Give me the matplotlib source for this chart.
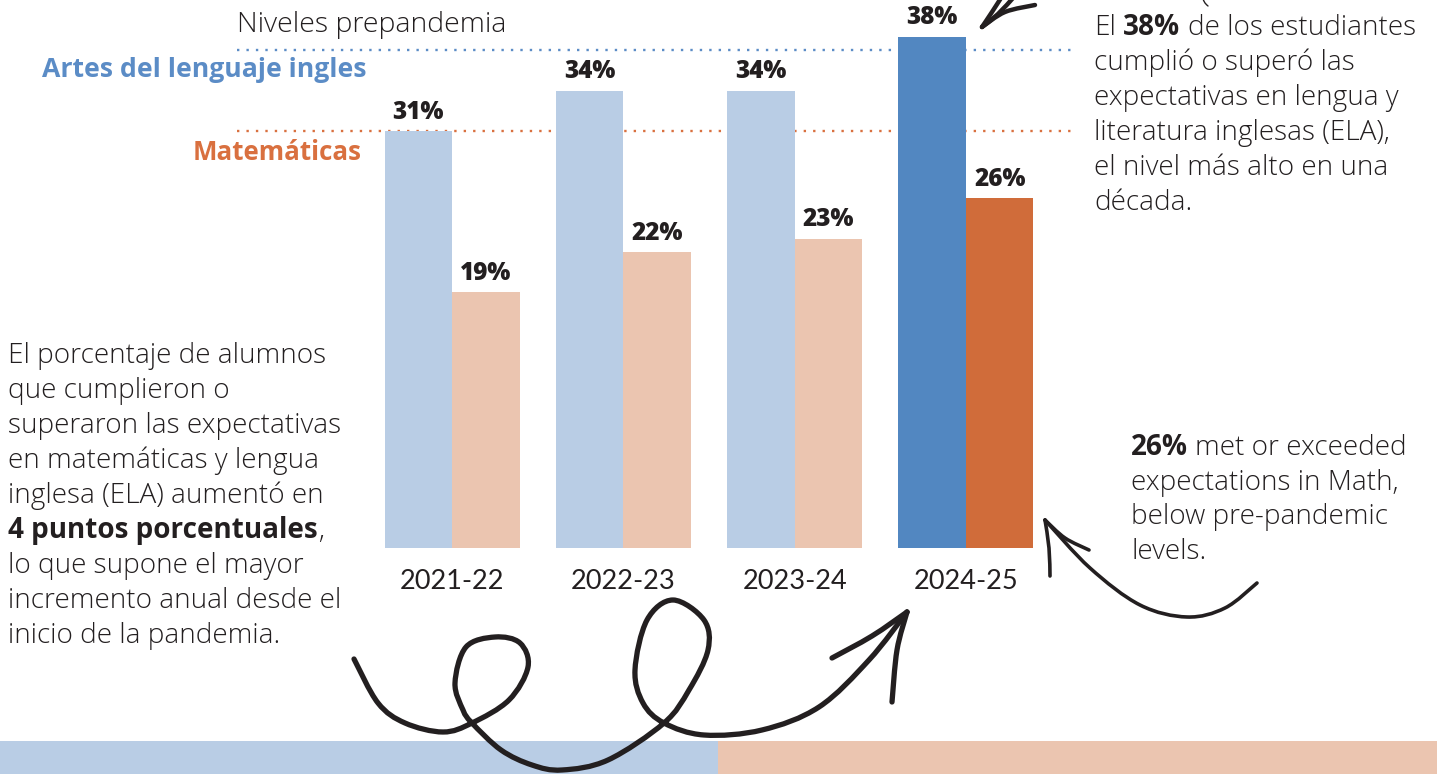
import numpy as np
import matplotlib
matplotlib.use("Agg")
import matplotlib.pyplot as plt
from matplotlib.path import Path
from matplotlib.patches import PathPatch, Rectangle

# data
years = ["2021-22", "2022-23", "2023-24", "2024-25"]
ela = [31, 34, 34, 38]
math_scores = [19, 22, 23, 26]
ela_prepandemic = 37
math_prepandemic = 31

W, H = 1437, 774
plt.rcParams['font.family'] = ['Open Sans', 'DejaVu Sans']
TXT = '#231F20'
BLUE_LBL = '#5B8CC6'
ORANGE_LBL = '#D9703F'
BODY = 20.1
LIGHT = 'light'

fig = plt.figure(figsize=(W / 100, H / 100), dpi=100)


def fx(x):
    return x / W


def fy(y):
    return 1 - y / H


# axes spans the dotted reference lines, baseline at y=548 px
ax = fig.add_axes([fx(237), fy(548), (1077 - 237) / W, 548 / H])
ax.set_facecolor('none')
x = np.arange(len(years))
bw = 0.394
ela_colors = ['#B9CDE5'] * 3 + ['#5287C1']
math_colors = ['#EBC5B0'] * 3 + ['#D06C3A']

ax.bar(x - bw / 2, ela, bw, color=ela_colors, zorder=2)
ax.bar(x + bw / 2, math_scores, bw, color=math_colors, zorder=2)
ax.axhline(ela_prepandemic, color=BLUE_LBL, ls=(0, (1, 3)), lw=1.7, zorder=1)
ax.axhline(math_prepandemic, color=ORANGE_LBL, ls=(0, (1, 3)), lw=1.7, zorder=1)

for xi, v in zip(x - bw / 2, ela):
    ax.annotate(f"{v}%", (xi, v), xytext=(0, 9), textcoords='offset points',
                ha='center', va='baseline', fontsize=17.5, fontweight='heavy', color=TXT)
for xi, v in zip(x + bw / 2, math_scores):
    ax.annotate(f"{v}%", (xi, v), xytext=(0, 9), textcoords='offset points',
                ha='center', va='baseline', fontsize=17.5, fontweight='heavy', color=TXT)

ax.set_xlim(-1.255, 3.648)
ax.set_ylim(0, 40.74)
ax.set_xticks(x)
ax.set_xticklabels(years, fontsize=19.5, color=TXT, family=['Lato', 'DejaVu Sans'])
ax.tick_params(axis='x', length=0, pad=15)
ax.set_yticks([])
for s in ax.spines.values():
    s.set_visible(False)

# headings
fig.text(fx(237), fy(32), "Niveles prepandemia", fontsize=20.5, fontweight=LIGHT,
         color=TXT, va='baseline')
fig.text(fx(366), fy(77), "Artes del lenguaje ingles", fontsize=19.2, fontweight='bold',
         color=BLUE_LBL, va='baseline', ha='right')
fig.text(fx(362), fy(160), "Matemáticas", fontsize=18.6, fontweight='bold',
         color=ORANGE_LBL, va='baseline', ha='right')

renderer = fig.canvas.get_renderer()


def text_w(s, size, weight):
    t = fig.text(0, 0, s, fontsize=size, fontweight=weight)
    w = t.get_window_extent(renderer=renderer).width
    t.remove()
    return w


def runs(x0, y0, parts, size=BODY):
    sp = text_w("a a", size, LIGHT) - text_w("aa", size, LIGHT)
    cur = x0
    for i, (s, wgt) in enumerate(parts):
        if i > 0 and not s.startswith(','):
            cur += sp
        t = fig.text(fx(cur), fy(y0), s, fontsize=size, fontweight=wgt,
                     color=TXT, va='baseline', ha='left')
        cur += t.get_window_extent(renderer=renderer).width


right_lines = [
    [("El", LIGHT), ("38%", 'bold'), ("de los estudiantes", LIGHT)],
    [("cumplió o superó las", LIGHT)],
    [("expectativas en lengua y", LIGHT)],
    [("literatura inglesas (ELA),", LIGHT)],
    [("el nivel más alto en una", LIGHT)],
    [("década.", LIGHT)],
]
for i, ln in enumerate(right_lines):
    runs(1094, 35 + 35 * i, ln)

left_lines = [
    [("El porcentaje de alumnos", LIGHT)],
    [("que cumplieron o", LIGHT)],
    [("superaron las expectativas", LIGHT)],
    [("en matemáticas y lengua", LIGHT)],
    [("inglesa (ELA) aumentó en", LIGHT)],
    [("4 puntos porcentuales", 'bold'), (",", LIGHT)],
    [("lo que supone el mayor", LIGHT)],
    [("incremento anual desde el", LIGHT)],
    [("inicio de la pandemia.", LIGHT)],
]
for i, ln in enumerate(left_lines):
    runs(8, 363 + 35 * i, ln)

br_lines = [
    [("26%", 'bold'), ("met or exceeded", LIGHT)],
    [("expectations in Math,", LIGHT)],
    [("below pre-pandemic", LIGHT)],
    [("levels.", LIGHT)],
]
for i, ln in enumerate(br_lines):
    runs(1131, 455 + 34.7 * i, ln)

# bottom colour band
fig.add_artist(Rectangle((0, 0), fx(718), 33 / H, transform=fig.transFigure,
                         color='#B9CDE5', lw=0, zorder=0))
fig.add_artist(Rectangle((fx(718), 0), 1 - fx(718), 33 / H, transform=fig.transFigure,
                         color='#EBC5B0', lw=0, zorder=0))


# hand drawn arrows (pixel coords, smooth curve through waypoints)
def stroke(pts, lw=3.8):
    p = np.array([[fx(a), fy(b)] for a, b in pts])
    p = np.vstack([p[0], p, p[-1]])
    verts = [p[1]]
    codes = [Path.MOVETO]
    for i in range(1, len(p) - 2):
        b1 = p[i] + (p[i + 1] - p[i - 1]) / 6
        b2 = p[i + 1] - (p[i + 2] - p[i]) / 6
        verts += [b1, b2, p[i + 1]]
        codes += [Path.CURVE4] * 3
    fig.add_artist(PathPatch(Path(verts, codes), transform=fig.transFigure, fill=False,
                             lw=lw, edgecolor='#231F20', capstyle='round',
                             joinstyle='round', zorder=5))


swirl = [(354, 659), (378, 703), (405, 723), (443, 732), (472, 723), (509, 700),
         (528, 667), (520, 643), (495, 637), (466, 647), (455, 683), (463, 710),
         (472, 723), (501, 750), (532, 765), (562, 770), (608, 760), (664, 723),
         (689, 690), (708, 650), (704, 620), (673, 600), (647, 620), (635, 670),
         (643, 703), (664, 723), (704, 735), (762, 730), (819, 707), (869, 660),
         (907, 612)]
stroke(swirl)
stroke([(907, 612), (872, 636), (832, 658)])
stroke([(907, 612), (897, 650), (892, 702)])

stroke([(1257, 583), (1225, 608), (1187, 617), (1140, 605), (1090, 568), (1045, 520)], lw=2.6)
stroke([(1045, 520), (1065, 538), (1089, 550)], lw=2.6)
stroke([(1045, 520), (1049, 548), (1050, 576)], lw=2.6)

stroke([(982, 27), (992, 12), (1001, -2)], lw=3.2)
stroke([(982, 27), (998, 14), (1013, -2)], lw=3.2)
stroke([(982, 27), (1005, 12), (1035, 5)], lw=3.2)
stroke([(1203, -1), (1205, 3), (1208, 6)], lw=1.0)

fig.savefig("out.png", dpi=100)
